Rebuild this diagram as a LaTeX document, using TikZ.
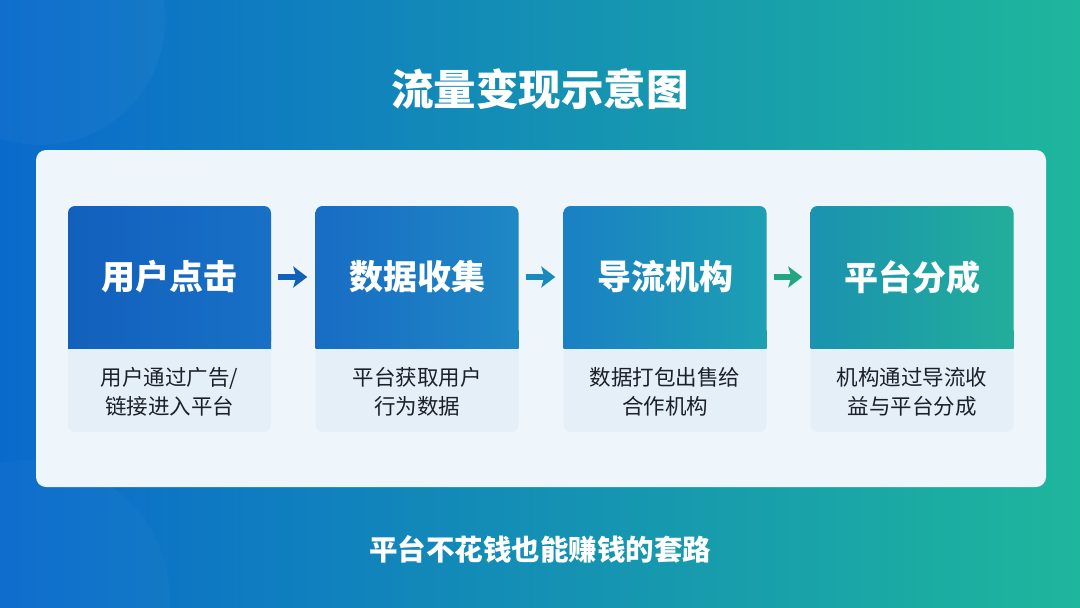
\documentclass[tikz,border=0pt]{standalone}
\usepackage{fontspec}
\setmainfont{Noto Sans CJK SC}
\usetikzlibrary{arrows.meta}
\definecolor{bgL}{RGB}{10,106,204}
\definecolor{bgR}{RGB}{30,182,156}
\definecolor{panelc}{RGB}{238,246,252}
\definecolor{lowc}{RGB}{228,239,248}
\definecolor{descc}{RGB}{28,32,40}
\definecolor{hAL}{RGB}{18,96,188}\definecolor{hAR}{RGB}{24,112,198}
\definecolor{hBL}{RGB}{24,108,196}\definecolor{hBR}{RGB}{30,136,196}
\definecolor{hCL}{RGB}{26,128,196}\definecolor{hCR}{RGB}{28,160,178}
\definecolor{hDL}{RGB}{26,146,176}\definecolor{hDR}{RGB}{34,174,154}
\definecolor{aA}{RGB}{20,96,182}
\definecolor{aB}{RGB}{26,138,186}
\definecolor{aC}{RGB}{32,166,128}
\tikzset{
  cardbox/.style={rectangle, rounded corners=7pt, fill=lowc, minimum width=203pt, minimum height=226pt, inner sep=0pt},
  headbox/.style={rectangle, rounded corners=7pt, minimum width=203pt, minimum height=142pt, inner sep=0pt, text=white, font=\bfseries\fontsize{34}{38}\selectfont},
  desc/.style={align=center, text=descc, font=\fontsize{21.5}{29}\selectfont},
  flow/.style={line width=5.5pt, -{Stealth[length=14pt,width=21pt,inset=3pt]}, shorten <=7pt, shorten >=8pt}
}
\begin{document}
\begin{tikzpicture}[x=1pt,y=-1pt]
\useasboundingbox (0,0) rectangle (1080,608);
\shade[left color=bgL, right color=bgR] (0,0) rectangle (1080,608);
\fill[white, opacity=0.03] (40,20) circle (125pt);
\fill[white, opacity=0.025] (30,600) circle (140pt);
\node[white, font=\bfseries\fontsize{42.5}{46}\selectfont] (title) at (540,89) {流量变现示意图};
\node[rectangle, rounded corners=10pt, fill=panelc, minimum width=1010pt, minimum height=337pt] (panel) at (541,318.5) {};
% cards
\node[cardbox] (c1) at (169.5,319) {};
\node[cardbox] (c2) at (417,319) {};
\node[cardbox] (c3) at (665,319) {};
\node[cardbox] (c4) at (912,319) {};
\shade[left color=hAL, right color=hAR] (68,330) rectangle (271,348);
\node[headbox, left color=hAL, right color=hAR] (h1) at (169.5,277) {用户点击};
\shade[left color=hBL, right color=hBR] (315.5,330) rectangle (518.5,348);
\node[headbox, left color=hBL, right color=hBR] (h2) at (417,277) {数据收集};
\shade[left color=hCL, right color=hCR] (563.5,330) rectangle (766.5,348);
\node[headbox, left color=hCL, right color=hCR] (h3) at (665,277) {导流机构};
\shade[left color=hDL, right color=hDR] (810.5,330) rectangle (1013.5,348);
\node[headbox, left color=hDL, right color=hDR] (h4) at (912,277) {平台分成};
\node[desc] (d1) at (169.5,392) {用户通过广告/\\链接进入平台};
\node[desc] (d2) at (417,392) {平台获取用户\\行为数据};
\node[desc] (d3) at (665,392) {数据打包出售给\\合作机构};
\node[desc] (d4) at (912,392) {机构通过导流收\\益与平台分成};
\draw[flow, aA] (h1.east) -- (h2.west);
\draw[flow, aB] (h2.east) -- (h3.west);
\draw[flow, aC] (h3.east) -- (h4.west);
\node[white, font=\bfseries\fontsize{28.5}{32}\selectfont] (sub) at (540,549) {平台不花钱也能赚钱的套路};
\end{tikzpicture}
\end{document}
